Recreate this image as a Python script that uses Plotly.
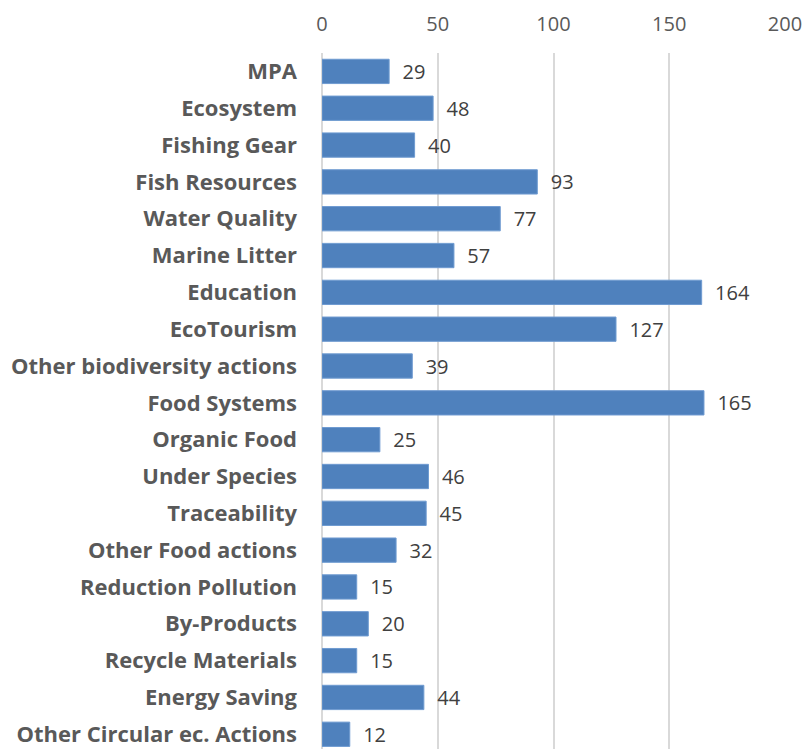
import plotly.graph_objects as go

categories = ["MPA", "Ecosystem", "Fishing Gear", "Fish Resources", "Water Quality",
              "Marine Litter", "Education", "EcoTourism", "Other biodiversity actions",
              "Food Systems", "Organic Food", "Under Species", "Traceability",
              "Other Food actions", "Reduction Pollution", "By-Products",
              "Recycle Materials", "Energy Saving", "Other Circular ec. Actions"]
values = [29, 48, 40, 93, 77, 57, 164, 127, 39, 165, 25, 46, 45, 32, 15, 20, 15, 44, 12]
x_ticks = [0, 50, 100, 150, 200]

fig = go.Figure(go.Bar(
    x=values, y=categories, orientation="h",
    marker=dict(color="#4f81bd", line=dict(color="#6f9bd1", width=1)),
    width=0.66,
    text=[f"  {v}" for v in values], textposition="outside",
    textfont=dict(family="Open Sans", size=20, color="#404040"),
    constraintext="none",
    cliponaxis=False,
    hoverinfo="skip",
))

fig.update_layout(
    width=804, height=749,
    margin=dict(l=322, r=19, t=53, b=0),
    plot_bgcolor="white", paper_bgcolor="white",
    showlegend=False,
    xaxis=dict(side="top", range=[0, 200], tickvals=x_ticks,
               showgrid=True, gridcolor="#d9d9d9", gridwidth=1.5,
               zeroline=True, zerolinecolor="#d9d9d9", zerolinewidth=1.5,
               tickfont=dict(family="Open Sans", size=20, color="#595959"),
               ticklabelstandoff=17, showline=False),
    yaxis=dict(type="category", categoryorder="array", categoryarray=categories,
               range=[18.4, -0.5],
               tickfont=dict(family="Open Sans", size=22, color="#595959", weight="bold"),
               ticklabelstandoff=24, showgrid=False, zeroline=False),
)

fig.write_html("out.html",
               config={"displayModeBar": False},
               post_script="document.body.style.margin='0';document.body.style.overflow='hidden';")
